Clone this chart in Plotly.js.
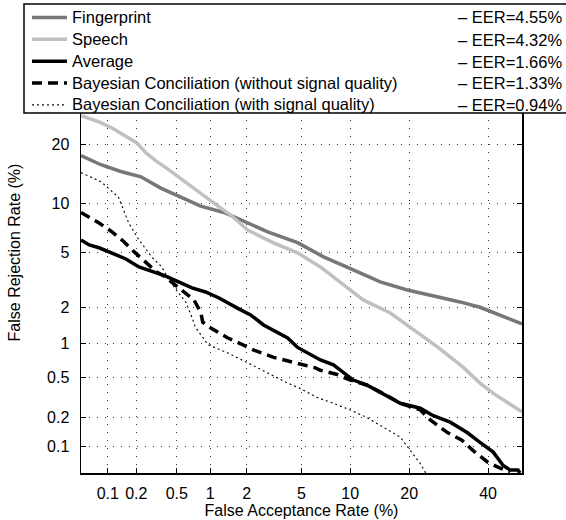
<!DOCTYPE html>
<html>
<head>
<meta charset="utf-8">
<script src="https://cdn.plot.ly/plotly-3.0.1.min.js"></script>
<style>html,body{margin:0;padding:0;background:#fff}#chart{width:566px;height:520px}</style>
</head>
<body>
<div id="chart"></div>
<script>
// ---- data (percent) ----
const seriesNames = ["Fingerprint", "Speech", "Average", "Bayesian Conciliation (without signal quality)", "Bayesian Conciliation (with signal quality)"];
const eerLabels = ["\u2013 EER=4.55%", "\u2013 EER=4.32%", "\u2013 EER=1.66%", "\u2013 EER=1.33%", "\u2013 EER=0.94%"];

const fingerprintFAR = [0.05,0.084,0.138,0.223,0.352,0.545,0.826,1.31,2.03,2.89,4.70,6.93,10.4,14.5,19.6,24.7,32.2,37.7,43.5,50];
const fingerprintFRR = [17.8,16.1,14.9,14.0,12.2,10.9,9.7,8.9,7.7,6.8,5.8,4.67,3.79,3.11,2.71,2.49,2.20,2.00,1.74,1.47];

const speechFAR = [0.05,0.080,0.111,0.167,0.203,0.25,0.315,0.40,0.49,0.645,0.91,1.19,1.49,2.03,3.19,4.70,6.63,9.6,11.8,16.3,20.9,26.4,33.0,37.7,41.5,50];
const speechFRR = [26.6,25.1,23.7,21.6,20.4,18.4,16.8,15.5,14.3,12.7,10.9,9.6,8.6,6.98,5.78,4.97,3.98,2.86,2.28,1.80,1.31,0.94,0.62,0.44,0.35,0.23];

const averageFAR = [0.05,0.062,0.080,0.111,0.156,0.213,0.286,0.393,0.52,0.69,0.91,1.19,1.70,2.14,2.69,3.41,4.02,4.70,6.63,7.97,9.1,10.4,12.4,15.0,18.2,22.4,25.4,29.6,34.1,37.7,41.5,44.4,46.5,48.8,49.4];
const averageFRR = [6.04,5.6,5.37,4.97,4.52,3.98,3.73,3.43,3.11,2.81,2.62,2.36,1.96,1.74,1.44,1.24,1.12,0.93,0.72,0.65,0.56,0.47,0.42,0.35,0.28,0.25,0.21,0.18,0.14,0.11,0.086,0.061,0.054,0.054,0.05];

const bayesNoQualFAR = [0.05,0.080,0.111,0.148,0.19,0.25,0.32,0.39,0.56,0.72,0.83,0.86,1.01,1.41,1.79,2.27,3.19,4.42,6.16,6.63,8.4,10.0,12.4,15.0,18.2,22.4,24.7,28.9,32.7,35.7,40.0,43.5,46.5];
const bayesNoQualFRR = [8.9,7.7,6.8,5.9,5.05,4.3,3.67,3.38,2.71,2.28,1.80,1.52,1.36,1.12,1.0,0.88,0.76,0.69,0.61,0.58,0.53,0.47,0.42,0.35,0.28,0.24,0.19,0.14,0.116,0.090,0.066,0.057,0.052];

const bayesQualFAR = [0.05,0.084,0.13,0.167,0.213,0.286,0.36,0.42,0.52,0.61,0.69,0.74,0.96,1.41,2.03,2.89,4.02,4.92,6.3,7.97,10.0,12.4,15.0,18.2,20.2,22.4,23.6];
const bayesQualFRR = [14.7,13.2,10.9,7.7,6.04,4.67,3.98,3.22,2.58,2.17,1.66,1.38,0.98,0.83,0.68,0.55,0.44,0.39,0.32,0.28,0.24,0.20,0.16,0.125,0.090,0.064,0.05];

const xTickValues = [0.1,0.2,0.5,1,2,5,10,20,40];
const yTickValues = [0.1,0.2,0.5,1,2,5,10,20];
const axisRangePct = [0.05, 50];

// ---- normal deviate (DET) scale ----
function probit(p){
  const a=[-3.969683028665376e+01,2.209460984245205e+02,-2.759285104469687e+02,1.383577518672690e+02,-3.066479806614716e+01,2.506628277459239e+00];
  const b=[-5.447609879822406e+01,1.615858368580409e+02,-1.556989798598866e+02,6.680131188771972e+01,-1.328068155288572e+01];
  const c=[-7.784894002430293e-03,-3.223964580411365e-01,-2.400758277161838e+00,-2.549732539343734e+00,4.374664141464968e+00,2.938163982698783e+00];
  const d=[7.784695709041462e-03,3.224671290700398e-01,2.445134137142996e+00,3.754408661907416e+00];
  const pl=0.02425, ph=1-pl; let q,r;
  if(p<pl){q=Math.sqrt(-2*Math.log(p));return (((((c[0]*q+c[1])*q+c[2])*q+c[3])*q+c[4])*q+c[5])/((((d[0]*q+d[1])*q+d[2])*q+d[3])*q+1);}
  if(p<=ph){q=p-0.5;r=q*q;return (((((a[0]*r+a[1])*r+a[2])*r+a[3])*r+a[4])*r+a[5])*q/(((((b[0]*r+b[1])*r+b[2])*r+b[3])*r+b[4])*r+1);}
  q=Math.sqrt(-2*Math.log(1-p));return -(((((c[0]*q+c[1])*q+c[2])*q+c[3])*q+c[4])*q+c[5])/((((d[0]*q+d[1])*q+d[2])*q+d[3])*q+1);
}
const dev = arr => arr.map(v => probit(v/100));
const fmt = v => String(v);

const FONT = "Liberation Sans, Arial, Helvetica, sans-serif";
const LEG_FS = 16.5;
const styles = [
  {color:"#777777", width:3.5, dash:"solid"},
  {color:"#c0c0c0", width:3.5, dash:"solid"},
  {color:"#000000", width:3.5, dash:"solid"},
  {color:"#000000", width:3.5, dash:"10px,6px"},
  {color:"#111111", width:1.2, dash:"2px,3px"}
];
const xs = [fingerprintFAR, speechFAR, averageFAR, bayesNoQualFAR, bayesQualFAR];
const ys = [fingerprintFRR, speechFRR, averageFRR, bayesNoQualFRR, bayesQualFRR];

const traces = seriesNames.map((n,i)=>({
  type:"scatter", mode:"lines",
  name:'<span style="font-size:'+LEG_FS+'px">'+n+'</span>',
  x: dev(xs[i]), y: dev(ys[i]),
  line:{color:styles[i].color, width:styles[i].width, dash:styles[i].dash},
  hoverinfo:"skip"
}));

const W=566,H=520,L=81,R=44,T=32,B=47;
const pw=W-L-R, ph=H-T-B;
const px = x => (x-L)/pw;
const py = y => (H-B-y)/ph;

const rowY = [17.5,39.5,61.5,83,105];
const annotations = eerLabels.map((t,i)=>({
  xref:"paper", yref:"paper", x:px(564), y:py(rowY[i]), xanchor:"right", yanchor:"middle",
  text:t, showarrow:false, font:{family:FONT, size:LEG_FS, color:"#000"}
}));

const axisCommon = {
  type:"linear", range:[probit(axisRangePct[0]/100), probit(axisRangePct[1]/100)],
  showgrid:true, gridcolor:"#333", gridwidth:1, griddash:"1px,7px",
  zeroline:false, showline:true, linecolor:"#000", linewidth:1.5, mirror:"ticks",
  ticks:"inside", ticklen:5, tickcolor:"#000", tickwidth:1,
  tickfont:{family:FONT, size:16, color:"#000"}, fixedrange:true, automargin:false
};

const layout = {
  width:W, height:H, margin:{l:L, r:R, t:T, b:B, pad:0, autoexpand:false},
  paper_bgcolor:"#fff", plot_bgcolor:"#fff",
  font:{family:FONT, size:16, color:"#000"},
  xaxis: Object.assign({}, axisCommon, {
    tickvals: dev(xTickValues), ticktext: xTickValues.map(fmt), ticklabelstandoff: 5,
    title:{text:"False Acceptance Rate (%)", font:{family:FONT, size:16, color:"#000"}, standoff:4}
  }),
  yaxis: Object.assign({}, axisCommon, {
    tickvals: dev(yTickValues), ticktext: yTickValues.map(fmt), ticklabelstandoff: 7,
    title:{text:"False Rejection Rate (%)", font:{family:FONT, size:16, color:"#000"}, standoff:22}
  }),
  showlegend:true,
  legend:{x:px(27), y:py(1.5), xanchor:"left", yanchor:"top", bgcolor:"rgba(0,0,0,0)", borderwidth:0,
    font:{family:FONT, size:14.5, color:"#000"}, traceorder:"normal", tracegroupgap:0, itemwidth:35},
  shapes:[{type:"rect", xref:"paper", yref:"paper", x0:px(24), x1:px(572), y0:py(113), y1:py(4),
    fillcolor:"#fff", line:{color:"#000", width:1.5}, layer:"above"}],
  annotations: annotations
};

Plotly.newPlot("chart", traces, layout, {displayModeBar:false, staticPlot:true});
</script>
</body>
</html>
